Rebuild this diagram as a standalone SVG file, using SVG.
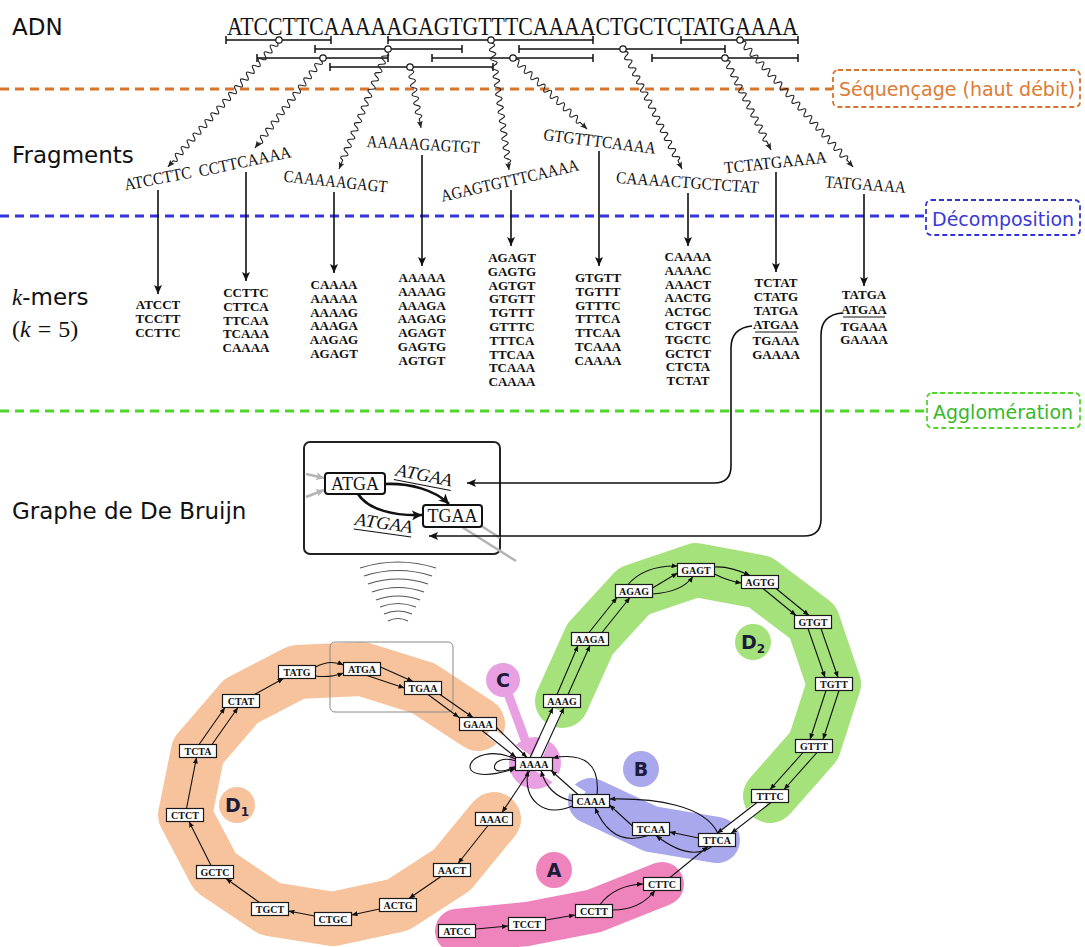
<svg xmlns="http://www.w3.org/2000/svg" width="1085" height="947" viewBox="0 0 1085 947">
<defs>
<style>
.lbl{font-family:"DejaVu Sans",sans-serif;font-size:23px;fill:#111}
.stage{font-family:"DejaVu Sans",sans-serif;font-size:19px}
.seq{font-family:"Liberation Serif",serif;font-size:25px;fill:#111}
.frag{font-family:"Liberation Serif",serif;font-size:17px;fill:#111;text-anchor:middle}
.km{font-family:"Liberation Serif",serif;font-size:13px;font-weight:bold;fill:#111;text-anchor:middle}
.seg{fill:none;stroke:#111;stroke-width:1.5}
.dot{fill:#fff;stroke:#111;stroke-width:1.2}
.wave{fill:none;stroke:#222;stroke-width:1.1;marker-end:url(#wa)}
.varr{stroke:#111;stroke-width:1.6;marker-end:url(#va)}
.conn{fill:none;stroke:#111;stroke-width:1.6;marker-end:url(#va)}
.nd rect{fill:#fff;stroke:#1a1a1a;stroke-width:1.2}
.nd text{font-family:"Liberation Serif",serif;font-size:10px;font-weight:bold;fill:#111;text-anchor:middle}
.e{fill:none;stroke:#111;stroke-width:1.1;marker-end:url(#sa)}
.band{fill:none;stroke-linecap:round;stroke-linejoin:round}
.halo{fill:none;stroke:#fff;stroke-width:10}
.rl{font-family:"DejaVu Sans",sans-serif;font-size:19px;font-weight:bold;fill:#1c1c3a}
.inode rect{fill:#fff;stroke:#111;stroke-width:2}
.inode text{font-family:"Liberation Serif",serif;font-size:18px;fill:#111;text-anchor:middle}
.ilab{font-family:"Liberation Serif",serif;font-size:18px;font-style:italic;fill:#111;text-anchor:middle}
.thick{fill:none;stroke:#111;stroke-width:2.6;marker-end:url(#ba)}
.gray{fill:none;stroke:#b4b4b4;stroke-width:2.5}
.radio{fill:none;stroke:#555;stroke-width:1.2}
</style>
<marker id="wa" markerUnits="userSpaceOnUse" markerWidth="8" markerHeight="6" refX="7" refY="3" orient="auto"><path d="M0,0 L7,3 L0,6 L1.5,3 z" fill="#222"/></marker>
<marker id="va" markerUnits="userSpaceOnUse" markerWidth="10" markerHeight="8" refX="9" refY="4" orient="auto"><path d="M0,0 L9,4 L0,8 L2,4 z" fill="#111"/></marker>
<marker id="sa" markerUnits="userSpaceOnUse" markerWidth="6" markerHeight="5" refX="6" refY="2.5" orient="auto"><path d="M0,0 L6,2.5 L0,5 z" fill="#111"/></marker>
<marker id="ba" markerUnits="userSpaceOnUse" markerWidth="11" markerHeight="10" refX="10" refY="5" orient="auto"><path d="M0,0 L10,5 L0,10 L2.5,5 z" fill="#111"/></marker>
<marker id="ga" markerUnits="userSpaceOnUse" markerWidth="9" markerHeight="8" refX="8" refY="4" orient="auto"><path d="M0,0 L8,4 L0,8 L2,4 z" fill="#b4b4b4"/></marker>
</defs>
<rect width="1085" height="947" fill="#fff"/>

<!-- stage separators -->
<g id="stages">
<line x1="0" y1="89" x2="832" y2="89" stroke="#d8742c" stroke-width="3" stroke-dasharray="9 6"/>
<rect x="833" y="70" width="247" height="37" rx="5" fill="none" stroke="#d8742c" stroke-width="1.8" stroke-dasharray="5 3"/>
<text class="stage" x="839" y="96" fill="#dc7b34">Séquençage (haut débit)</text>
<line x1="0" y1="216" x2="925" y2="216" stroke="#3434d8" stroke-width="3" stroke-dasharray="9 6"/>
<rect x="926" y="200" width="154" height="35" rx="5" fill="none" stroke="#3434d8" stroke-width="1.8" stroke-dasharray="5 3"/>
<text class="stage" x="932" y="226" fill="#3a3ad6">Décomposition</text>
<line x1="0" y1="411" x2="926" y2="411" stroke="#4fd62c" stroke-width="3" stroke-dasharray="9 6"/>
<rect x="927" y="393" width="153" height="35" rx="5" fill="none" stroke="#4fd62c" stroke-width="1.8" stroke-dasharray="5 3"/>
<text class="stage" x="933" y="419" fill="#36b82a">Agglomération</text>
</g>

<!-- left labels -->
<g id="labels">
<text class="lbl" x="12" y="35">ADN</text>
<text class="lbl" x="12" y="163">Fragments</text>
<text class="lbl" x="12" y="305"><tspan font-family="Liberation Serif" font-style="italic">k</tspan>-mers</text>
<text x="12" y="337" font-family="Liberation Serif" font-size="24" fill="#111">(<tspan font-style="italic">k</tspan><tspan dx="7">=</tspan><tspan dx="7">5)</tspan></text>
<text class="lbl" x="12" y="519">Graphe de De Bruijn</text>
</g>

<!-- DNA -->
<g id="dna">
<text class="seq" x="227" y="35" textLength="571" lengthAdjust="spacingAndGlyphs">ATCCTTCAAAAAGAGTGTTTCAAAACTGCTCTATGAAAA</text>
<path class="seg" d="M226,40 H331 M226,36 V44 M331,36 V44 M388,40 H593 M388,36 V44 M593,36 V44 M681,40 H798 M681,36 V44 M798,36 V44 M315,49 H462 M315,45 V53 M462,45 V53 M519,49 H725 M519,45 V53 M725,45 V53 M257,58 H388 M257,54 V62 M388,54 V62 M432,58 H593 M432,54 V62 M593,54 V62 M652,58 H798 M652,54 V62 M798,54 V62 M330,67 H493 M330,63 V71 M493,63 V71"/>
</g>

<!-- sequencing and decomposition connectors -->
<g id="connectors">
<path class="wave" transform="translate(279,40) rotate(131.2)" d="M0,0 l3,0 q2.25,-6 4.5,0 t4.5,0 t4.5,0 t4.5,0 t4.5,0 t4.5,0 t4.5,0 t4.5,0 t4.5,0 t4.5,0 t4.5,0 t4.5,0 t4.5,0 t4.5,0 t4.5,0 t4.5,0 t4.5,0 t4.5,0 t4.5,0 t4.5,0 t4.5,0 t4.5,0 t4.5,0 t4.5,0 t4.5,0 t4.5,0 t4.5,0 t4.5,0 t4.5,0 t4.5,0 t4.5,0 t4.5,0 t4.5,0 t4.5,0 t4.5,0 l8.2,0"/>
<path class="wave" transform="translate(323,58) rotate(127.1)" d="M0,0 l3,0 q2.25,-6 4.5,0 t4.5,0 t4.5,0 t4.5,0 t4.5,0 t4.5,0 t4.5,0 t4.5,0 t4.5,0 t4.5,0 t4.5,0 t4.5,0 t4.5,0 t4.5,0 t4.5,0 t4.5,0 t4.5,0 t4.5,0 t4.5,0 t4.5,0 t4.5,0 t4.5,0 t4.5,0 l6.3,0"/>
<path class="wave" transform="translate(388,49) rotate(112.2)" d="M0,0 l3,0 q2.25,-6 4.5,0 t4.5,0 t4.5,0 t4.5,0 t4.5,0 t4.5,0 t4.5,0 t4.5,0 t4.5,0 t4.5,0 t4.5,0 t4.5,0 t4.5,0 t4.5,0 t4.5,0 t4.5,0 t4.5,0 t4.5,0 t4.5,0 t4.5,0 t4.5,0 t4.5,0 t4.5,0 t4.5,0 t4.5,0 t4.5,0 l9.6,0"/>
<path class="wave" transform="translate(410,67) rotate(79.8)" d="M0,0 l3,0 q2.25,-6 4.5,0 t4.5,0 t4.5,0 t4.5,0 t4.5,0 t4.5,0 t4.5,0 t4.5,0 t4.5,0 t4.5,0 t4.5,0 l9.5,0"/>
<path class="wave" transform="translate(491,40) rotate(82.1)" d="M0,0 l3,0 q2.25,-6 4.5,0 t4.5,0 t4.5,0 t4.5,0 t4.5,0 t4.5,0 t4.5,0 t4.5,0 t4.5,0 t4.5,0 t4.5,0 t4.5,0 t4.5,0 t4.5,0 t4.5,0 t4.5,0 t4.5,0 t4.5,0 t4.5,0 t4.5,0 t4.5,0 t4.5,0 t4.5,0 t4.5,0 t4.5,0 t4.5,0 t4.5,0 l6.7,0"/>
<path class="wave" transform="translate(513,58) rotate(43.8)" d="M0,0 l3,0 q2.25,-6 4.5,0 t4.5,0 t4.5,0 t4.5,0 t4.5,0 t4.5,0 t4.5,0 t4.5,0 t4.5,0 t4.5,0 t4.5,0 t4.5,0 t4.5,0 t4.5,0 t4.5,0 t4.5,0 t4.5,0 t4.5,0 t4.5,0 t4.5,0 l9.6,0"/>
<path class="wave" transform="translate(623,49) rotate(63.8)" d="M0,0 l3,0 q2.25,-6 4.5,0 t4.5,0 t4.5,0 t4.5,0 t4.5,0 t4.5,0 t4.5,0 t4.5,0 t4.5,0 t4.5,0 t4.5,0 t4.5,0 t4.5,0 t4.5,0 t4.5,0 t4.5,0 t4.5,0 t4.5,0 t4.5,0 t4.5,0 t4.5,0 t4.5,0 t4.5,0 t4.5,0 t4.5,0 t4.5,0 t4.5,0 l9.2,0"/>
<path class="wave" transform="translate(725,58) rotate(63.4)" d="M0,0 l3,0 q2.25,-6 4.5,0 t4.5,0 t4.5,0 t4.5,0 t4.5,0 t4.5,0 t4.5,0 t4.5,0 t4.5,0 t4.5,0 t4.5,0 t4.5,0 t4.5,0 t4.5,0 t4.5,0 t4.5,0 t4.5,0 t4.5,0 t4.5,0 t4.5,0 l9.9,0"/>
<path class="wave" transform="translate(740,40) rotate(48.3)" d="M0,0 l3,0 q2.25,-6 4.5,0 t4.5,0 t4.5,0 t4.5,0 t4.5,0 t4.5,0 t4.5,0 t4.5,0 t4.5,0 t4.5,0 t4.5,0 t4.5,0 t4.5,0 t4.5,0 t4.5,0 t4.5,0 t4.5,0 t4.5,0 t4.5,0 t4.5,0 t4.5,0 t4.5,0 t4.5,0 t4.5,0 t4.5,0 t4.5,0 t4.5,0 t4.5,0 t4.5,0 t4.5,0 t4.5,0 t4.5,0 t4.5,0 t4.5,0 t4.5,0 l9.5,0"/>
<g class="dot">
<circle cx="279" cy="40" r="3.2"/><circle cx="491" cy="40" r="3.2"/><circle cx="740" cy="40" r="3.2"/>
<circle cx="388" cy="49" r="3.2"/><circle cx="623" cy="49" r="3.2"/>
<circle cx="323" cy="58" r="3.2"/><circle cx="513" cy="58" r="3.2"/><circle cx="725" cy="58" r="3.2"/>
<circle cx="410" cy="67" r="3.2"/>
</g>
<line class="varr" x1="158" y1="190" x2="158" y2="294"/>
<line class="varr" x1="246" y1="172" x2="246" y2="281"/>
<line class="varr" x1="334" y1="192" x2="334" y2="273"/>
<line class="varr" x1="422" y1="155" x2="422" y2="266"/>
<line class="varr" x1="511" y1="190" x2="511" y2="246"/>
<line class="varr" x1="599" y1="151" x2="599" y2="266"/>
<line class="varr" x1="688" y1="193" x2="688" y2="246"/>
<line class="varr" x1="776" y1="172" x2="776" y2="272"/>
<line class="varr" x1="864" y1="194" x2="864" y2="286"/>
</g>

<!-- fragments -->
<g id="fragments">
<g id="frag-1"><text class="frag" transform="translate(159,184) rotate(-11)" textLength="68" lengthAdjust="spacingAndGlyphs">ATCCTTC</text></g>
<g id="frag-2"><text class="frag" transform="translate(246,167) rotate(-12)" textLength="94" lengthAdjust="spacingAndGlyphs">CCTTCAAAA</text></g>
<g id="frag-3"><text class="frag" transform="translate(335,187) rotate(6)" textLength="104" lengthAdjust="spacingAndGlyphs">CAAAAAGAGT</text></g>
<g id="frag-4"><text class="frag" transform="translate(423,150) rotate(3)" textLength="113" lengthAdjust="spacingAndGlyphs">AAAAAGAGTGT</text></g>
<g id="frag-5"><text class="frag" transform="translate(511,186) rotate(-13)" textLength="141" lengthAdjust="spacingAndGlyphs">AGAGTGTTTCAAAA</text></g>
<g id="frag-6"><text class="frag" transform="translate(599,147) rotate(7)" textLength="113" lengthAdjust="spacingAndGlyphs">GTGTTTCAAAA</text></g>
<g id="frag-7"><text class="frag" transform="translate(687,188) rotate(4)" textLength="143" lengthAdjust="spacingAndGlyphs">CAAAACTGCTCTAT</text></g>
<g id="frag-8"><text class="frag" transform="translate(776,168) rotate(-6)" textLength="103" lengthAdjust="spacingAndGlyphs">TCTATGAAAA</text></g>
<g id="frag-9"><text class="frag" transform="translate(865,190) rotate(4)" textLength="81" lengthAdjust="spacingAndGlyphs">TATGAAAA</text></g>
</g>

<!-- k-mers -->
<g id="kmers">
<g id="kmers-1"><text class="km" y="309"><tspan x="158">ATCCT</tspan><tspan x="158" dy="13.8">TCCTT</tspan><tspan x="158" dy="13.8">CCTTC</tspan></text></g>
<g id="kmers-2"><text class="km" y="297"><tspan x="246">CCTTC</tspan><tspan x="246" dy="13.8">CTTCA</tspan><tspan x="246" dy="13.8">TTCAA</tspan><tspan x="246" dy="13.8">TCAAA</tspan><tspan x="246" dy="13.8">CAAAA</tspan></text></g>
<g id="kmers-3"><text class="km" y="289"><tspan x="334">CAAAA</tspan><tspan x="334" dy="13.8">AAAAA</tspan><tspan x="334" dy="13.8">AAAAG</tspan><tspan x="334" dy="13.8">AAAGA</tspan><tspan x="334" dy="13.8">AAGAG</tspan><tspan x="334" dy="13.8">AGAGT</tspan></text></g>
<g id="kmers-4"><text class="km" y="282"><tspan x="422">AAAAA</tspan><tspan x="422" dy="13.8">AAAAG</tspan><tspan x="422" dy="13.8">AAAGA</tspan><tspan x="422" dy="13.8">AAGAG</tspan><tspan x="422" dy="13.8">AGAGT</tspan><tspan x="422" dy="13.8">GAGTG</tspan><tspan x="422" dy="13.8">AGTGT</tspan></text></g>
<g id="kmers-5"><text class="km" y="262"><tspan x="512">AGAGT</tspan><tspan x="512" dy="13.8">GAGTG</tspan><tspan x="512" dy="13.8">AGTGT</tspan><tspan x="512" dy="13.8">GTGTT</tspan><tspan x="512" dy="13.8">TGTTT</tspan><tspan x="512" dy="13.8">GTTTC</tspan><tspan x="512" dy="13.8">TTTCA</tspan><tspan x="512" dy="13.8">TTCAA</tspan><tspan x="512" dy="13.8">TCAAA</tspan><tspan x="512" dy="13.8">CAAAA</tspan></text></g>
<g id="kmers-6"><text class="km" y="282"><tspan x="598">GTGTT</tspan><tspan x="598" dy="13.8">TGTTT</tspan><tspan x="598" dy="13.8">GTTTC</tspan><tspan x="598" dy="13.8">TTTCA</tspan><tspan x="598" dy="13.8">TTCAA</tspan><tspan x="598" dy="13.8">TCAAA</tspan><tspan x="598" dy="13.8">CAAAA</tspan></text></g>
<g id="kmers-7"><text class="km" y="261"><tspan x="688">CAAAA</tspan><tspan x="688" dy="13.8">AAAAC</tspan><tspan x="688" dy="13.8">AAACT</tspan><tspan x="688" dy="13.8">AACTG</tspan><tspan x="688" dy="13.8">ACTGC</tspan><tspan x="688" dy="13.8">CTGCT</tspan><tspan x="688" dy="13.8">TGCTC</tspan><tspan x="688" dy="13.8">GCTCT</tspan><tspan x="688" dy="13.8">CTCTA</tspan><tspan x="688" dy="13.8">TCTAT</tspan></text></g>
<g id="kmers-8"><text class="km"><tspan x="776" y="287">TCTAT</tspan><tspan x="776" y="301">CTATG</tspan><tspan x="776" y="315">TATGA</tspan><tspan x="776" y="329">ATGAA</tspan><tspan x="776" y="345">TGAAA</tspan><tspan x="776" y="359">GAAAA</tspan></text>
<line x1="755" y1="332" x2="797" y2="332" stroke="#111" stroke-width="1"/></g>
<g id="kmers-9"><text class="km"><tspan x="864" y="299">TATGA</tspan><tspan x="864" y="314">ATGAA</tspan><tspan x="864" y="331">TGAAA</tspan><tspan x="864" y="344">GAAAA</tspan></text>
<line x1="843" y1="317" x2="885" y2="317" stroke="#111" stroke-width="1"/></g>
</g>

<!-- inset zoom -->
<g id="inset">
<rect x="304" y="442" width="196" height="112" rx="6" fill="#fff" stroke="#222" stroke-width="2"/>
<path class="gray" d="M462,527 L516,561 M480,525 L500,538"/>
<path class="gray" marker-end="url(#ga)" d="M306,474 L324,478"/>
<path class="gray" marker-end="url(#ga)" d="M306,497 L324,490"/>
<path class="thick" d="M385,484 C410,483 435,490 449,504"/>
<path class="thick" d="M358,494 C368,510 395,516 422,515"/>
<g id="inset-ATGA" class="inode"><rect x="325" y="473" width="60" height="21" rx="3"/><text x="355" y="490">ATGA</text></g>
<g id="inset-TGAA" class="inode"><rect x="423" y="505" width="59" height="22" rx="3"/><text x="452.5" y="522">TGAA</text></g>
<g transform="translate(423,481) rotate(11)"><text class="ilab" x="0" y="0" textLength="57" lengthAdjust="spacingAndGlyphs">ATGAA</text><line x1="-29" y1="4" x2="29" y2="4" stroke="#111" stroke-width="1"/></g>
<g transform="translate(383,529) rotate(8)"><text class="ilab" x="0" y="0" textLength="58" lengthAdjust="spacingAndGlyphs">ATGAA</text><line x1="-29" y1="4" x2="29" y2="4" stroke="#111" stroke-width="1"/></g>
</g>

<!-- agglomeration connectors -->
<g id="agglo-connectors">
<path class="conn" d="M752,326 Q731,328 731,348 L731,466 Q731,483 714,483 L467,483"/>
<path class="conn" d="M842,313 Q821,315 821,335 L821,519 Q821,536 804,536 L429,536"/>
</g>

<g id="radio">
<path class="radio" d="M360,568 Q398,556 436,568 M364,576 Q398,565 432,576 M368,584 Q398,574 428,584 M372,592 Q398,583 424,592 M376,600 Q398,592 420,600 M380,607 Q398,600 416,607 M384,614 Q398,608 412,614 M388,621 Q398,616 408,621"/>
</g>

<!-- regions -->
<g id="regions">
<path class="band" stroke="#f7c39c" stroke-width="54" d="M478,724 L423,688 L362,669 L297,672 L241,701 L198,751 L185,815 L215,872 L270,909 L333,919 L398,905 L452,870 L494,819"/>
<path class="band" stroke="#a6e27c" stroke-width="54" d="M562,701 L590,639 L634,591 L696,570 L760,582 L813,622 L834,684 L814,746 L770,796"/>
<path class="band" stroke="#a9a8ec" stroke-width="46" d="M591,801 L651,829 L717,840"/>
<path class="band" stroke="#ef84bd" stroke-width="44" d="M457,931 L527,924 L594,911 L662,884"/>
<circle cx="535" cy="763" r="26" fill="#e8a0e2"/>
<line x1="503" y1="680" x2="527" y2="745" stroke="#e8a0e2" stroke-width="9"/>
<path class="halo" d="M489,732 L534,764 M534,764 L558,710 M583,796 L534,764 M764,801 L722,836"/>
<circle cx="237" cy="805" r="18" fill="#f7c39c"/>
<circle cx="753" cy="642" r="18" fill="#a6e27c"/>
<circle cx="641" cy="769" r="18" fill="#a9a8ec"/>
<circle cx="554" cy="870" r="18" fill="#ef84bd"/>
<circle cx="503" cy="680" r="17" fill="#e8a0e2"/>
<rect x="330" y="642" width="123" height="70" rx="5" fill="none" stroke="#8a8a8a" stroke-width="1"/>
</g>

<!-- graph edges -->
<g id="edges">
<path class="e" d="M476,929 L508,926"/>
<path class="e" d="M546,920 L575,915"/>
<path class="e" d="M600,904.5 Q615,885 643,884"/>
<path class="e" d="M612.5,910 Q640,910 655,890.5"/>
<path class="e" d="M670,877.5 L708,846.5"/>
<path class="e" d="M698.5,838 L669.5,832"/>
<path class="e" d="M712,846.5 Q690,862 656,835.5"/>
<path class="e" d="M718,833.5 C705,805 655,798 609.5,799"/>
<path class="e" d="M632.5,826 L609.5,805"/>
<path class="e" d="M648,835.5 Q612,848 595,807.5"/>
<path class="e" d="M578,794.5 L551,770.5"/>
<path class="e" d="M597,794.5 C600,765 585,752 552.5,758"/>
<path class="e" d="M572.5,801 Q548,796 541,770.5"/>
<path class="e" d="M572.5,806 C543,818 523,800 528,770.5"/>
<path class="e" d="M515.5,759 C468,737 443,792 515.5,768.5"/>
<path class="e" d="M515.5,761 C490,752 485,782 515.5,766.5"/>
<path class="e" d="M482,730.5 L516,757.5"/>
<path class="e" d="M496,727 L527,757.5"/>
<path class="e" d="M428,694.5 L459,717.5"/>
<path class="e" d="M440,694.5 L473,717.5"/>
<path class="e" d="M380.5,667 L413,681.5"/>
<path class="e" d="M367,675.5 L404.5,688"/>
<path class="e" d="M315.5,667 Q330,659 343.5,665"/>
<path class="e" d="M315.5,676 Q330,678 343.5,673"/>
<path class="e" d="M254.5,694.5 L283.5,678.5"/>
<path class="e" d="M199,744.5 L225,707.5"/>
<path class="e" d="M212,744.5 L238,707.5"/>
<path class="e" d="M186.5,808.5 L196.5,757.5"/>
<path class="e" d="M211,865.5 L189,821.5"/>
<path class="e" d="M259.5,902.5 L226,878.5"/>
<path class="e" d="M314.5,916 L288.5,911"/>
<path class="e" d="M379.5,909 L351.5,915"/>
<path class="e" d="M441,876.5 L409,898.5"/>
<path class="e" d="M488,825.5 L458,863.5"/>
<path class="e" d="M530,770.5 L502,812.5"/>
<path class="e" d="M530,757.5 L553,707.5"/>
<path class="e" d="M541,757.5 L564,707.5"/>
<path class="e" d="M557,694.5 L578,645.5"/>
<path class="e" d="M568,694.5 L590,645.5"/>
<path class="e" d="M589,632.5 L617,597.5"/>
<path class="e" d="M602,632.5 L630,597.5"/>
<path class="e" d="M628,584.5 Q645,565 677.5,566"/>
<path class="e" d="M652.5,588 L677.5,573"/>
<path class="e" d="M652.5,594 Q682,592 693,576.5"/>
<path class="e" d="M714.5,567 Q730,566 750,575.5"/>
<path class="e" d="M714.5,574 Q728,581 741.5,583"/>
<path class="e" d="M763,588.5 L796,615.5"/>
<path class="e" d="M776,588.5 L809,615.5"/>
<path class="e" d="M808,628.5 L825,677.5"/>
<path class="e" d="M821,628.5 L838,677.5"/>
<path class="e" d="M826,690.5 L810,739.5"/>
<path class="e" d="M839,690.5 L823,739.5"/>
<path class="e" d="M803,752.5 L770,789.5"/>
<path class="e" d="M817,752.5 L784,789.5"/>
<path class="e" d="M757,802.5 L717,833.5"/>
<path class="e" d="M771,802.5 L731,833.5"/>
</g>

<!-- graph nodes -->
<g id="nodes">
<g id="n-ATCC" class="nd"><rect x="438.5" y="924.5" width="37" height="13"/><text x="457" y="934.5">ATCC</text></g>
<g id="n-TCCT" class="nd"><rect x="508.5" y="917.5" width="37" height="13"/><text x="527" y="927.5">TCCT</text></g>
<g id="n-CCTT" class="nd"><rect x="575.5" y="904.5" width="37" height="13"/><text x="594" y="914.5">CCTT</text></g>
<g id="n-CTTC" class="nd"><rect x="643.5" y="877.5" width="37" height="13"/><text x="662" y="887.5">CTTC</text></g>
<g id="n-TTCA" class="nd"><rect x="698.5" y="833.5" width="37" height="13"/><text x="717" y="843.5">TTCA</text></g>
<g id="n-TCAA" class="nd"><rect x="632.5" y="822.5" width="37" height="13"/><text x="651" y="832.5">TCAA</text></g>
<g id="n-CAAA" class="nd"><rect x="572.5" y="794.5" width="37" height="13"/><text x="591" y="804.5">CAAA</text></g>
<g id="n-AAAA" class="nd"><rect x="515.5" y="757.5" width="37" height="13"/><text x="534" y="767.5">AAAA</text></g>
<g id="n-GAAA" class="nd"><rect x="459.5" y="717.5" width="37" height="13"/><text x="478" y="727.5">GAAA</text></g>
<g id="n-TGAA" class="nd"><rect x="404.5" y="681.5" width="37" height="13"/><text x="423" y="691.5">TGAA</text></g>
<g id="n-ATGA" class="nd"><rect x="343.5" y="662.5" width="37" height="13"/><text x="362" y="672.5">ATGA</text></g>
<g id="n-TATG" class="nd"><rect x="278.5" y="665.5" width="37" height="13"/><text x="297" y="675.5">TATG</text></g>
<g id="n-CTAT" class="nd"><rect x="222.5" y="694.5" width="37" height="13"/><text x="241" y="704.5">CTAT</text></g>
<g id="n-TCTA" class="nd"><rect x="179.5" y="744.5" width="37" height="13"/><text x="198" y="754.5">TCTA</text></g>
<g id="n-CTCT" class="nd"><rect x="166.5" y="808.5" width="37" height="13"/><text x="185" y="818.5">CTCT</text></g>
<g id="n-GCTC" class="nd"><rect x="196.5" y="865.5" width="37" height="13"/><text x="215" y="875.5">GCTC</text></g>
<g id="n-TGCT" class="nd"><rect x="251.5" y="902.5" width="37" height="13"/><text x="270" y="912.5">TGCT</text></g>
<g id="n-CTGC" class="nd"><rect x="314.5" y="912.5" width="37" height="13"/><text x="333" y="922.5">CTGC</text></g>
<g id="n-ACTG" class="nd"><rect x="379.5" y="898.5" width="37" height="13"/><text x="398" y="908.5">ACTG</text></g>
<g id="n-AACT" class="nd"><rect x="433.5" y="863.5" width="37" height="13"/><text x="452" y="873.5">AACT</text></g>
<g id="n-AAAC" class="nd"><rect x="475.5" y="812.5" width="37" height="13"/><text x="494" y="822.5">AAAC</text></g>
<g id="n-AAAG" class="nd"><rect x="543.5" y="694.5" width="37" height="13"/><text x="562" y="704.5">AAAG</text></g>
<g id="n-AAGA" class="nd"><rect x="571.5" y="632.5" width="37" height="13"/><text x="590" y="642.5">AAGA</text></g>
<g id="n-AGAG" class="nd"><rect x="615.5" y="584.5" width="37" height="13"/><text x="634" y="594.5">AGAG</text></g>
<g id="n-GAGT" class="nd"><rect x="677.5" y="563.5" width="37" height="13"/><text x="696" y="573.5">GAGT</text></g>
<g id="n-AGTG" class="nd"><rect x="741.5" y="575.5" width="37" height="13"/><text x="760" y="585.5">AGTG</text></g>
<g id="n-GTGT" class="nd"><rect x="794.5" y="615.5" width="37" height="13"/><text x="813" y="625.5">GTGT</text></g>
<g id="n-TGTT" class="nd"><rect x="815.5" y="677.5" width="37" height="13"/><text x="834" y="687.5">TGTT</text></g>
<g id="n-GTTT" class="nd"><rect x="795.5" y="739.5" width="37" height="13"/><text x="814" y="749.5">GTTT</text></g>
<g id="n-TTTC" class="nd"><rect x="751.5" y="789.5" width="37" height="13"/><text x="770" y="799.5">TTTC</text></g>
</g>

<!-- region labels -->
<g id="region-labels">
<text class="rl" x="225" y="812">D<tspan font-size="12" dy="4">1</tspan></text>
<text class="rl" x="741" y="649">D<tspan font-size="12" dy="4">2</tspan></text>
<text class="rl" x="641" y="776" text-anchor="middle">B</text>
<text class="rl" x="554" y="877" text-anchor="middle">A</text>
<text class="rl" x="503" y="687" text-anchor="middle">C</text>
</g>
</svg>
